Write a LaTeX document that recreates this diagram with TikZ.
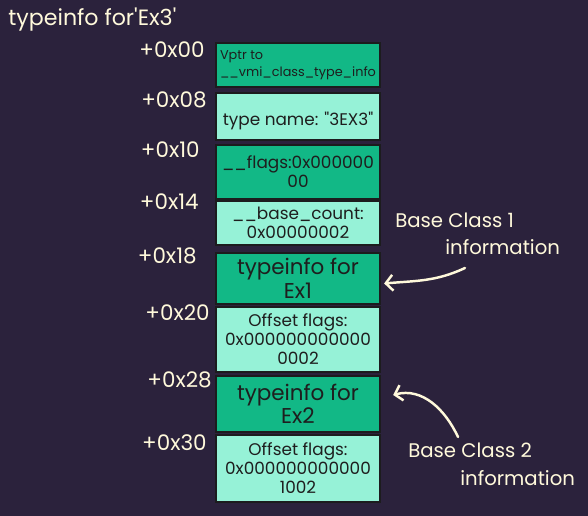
\documentclass[tikz,border=0pt]{standalone}
\usepackage{fontspec}
\setmainfont{Poppins}
\usetikzlibrary{calc,arrows.meta}
\definecolor{cBg}   {RGB}{43,34,60}
\definecolor{cDark} {RGB}{18,184,134}
\definecolor{cLight}{RGB}{150,242,215}
\definecolor{cEdge} {RGB}{28,28,30}
\definecolor{cInk}  {RGB}{30,30,30}
\definecolor{cCream}{RGB}{255,249,219}
\def\fsTitle{\fontsize{12.6}{15}\selectfont}
\def\fsOffs{\fontsize{12.2}{15}\selectfont}
\def\fsNote{\fontsize{11.2}{14}\selectfont}
\def\fsBig{\fontsize{12.2}{13.4}\selectfont}
\def\fsBox{\fontsize{9.6}{10.8}\selectfont}
\def\fsTiny{\fontsize{7.3}{9.6}\selectfont}
\def\Xmid{298}
\tikzset{
  slot/.style={draw=cEdge,line width=1.3pt,text=cInk,minimum width=3.28cm,
    inner sep=0pt,align=center},
  offs/.style={text=cCream,font=\fsOffs,anchor=east,inner sep=0pt},
  note/.style={text=cCream,font=\fsNote,anchor=west,inner sep=0pt},
  noteArrow/.style={draw=cCream,line width=1.4pt,line cap=round,
    -{Straight Barb[length=4pt,width=9pt,line width=1.4pt]}}
}
% name, y top, y bottom, fill, font, text
\newcommand{\slotBox}[6]{%
  \node[slot,fill=#4,font=#5,minimum height={(#3-#2)*0.02cm}]
    (#1) at (\Xmid,{(#2+#3)/2}) {#6};
}

\begin{document}
\begin{tikzpicture}[x=0.02cm,y=-0.02cm]

% fundo
\fill[cBg] (0,0) rectangle (588,516);
\useasboundingbox (0,0) rectangle (588,516);

% =================== TITLE ===================
\node[note,font=\fsTitle] (title) at (8,20)
  {typeinfo for\textquotesingle Ex3\textquotesingle};

% =================== SLOTS ===================
\slotBox{vptr}{43}{87}{cDark}{\fsTiny}{%
  \begin{tabular}{@{}l@{}}Vptr to\\\_\_vmi\_class\_type\_info\end{tabular}}
\slotBox{tname}{93}{140}{cLight}{\fsBox}%
  {\raisebox{-13pt}{type name: \textquotedbl 3EX3\textquotedbl}}
\slotBox{flags}{145}{199}{cDark}{\fsBox}{\_\_flags:0x000000\\00}
\slotBox{bcount}{201}{245}{cLight}{\fsBox}{\_\_base\_count:\\0x00000002}
\slotBox{ti1}{253}{304}{cDark}{\fsBig}{typeinfo for\\Ex1}
\slotBox{off1}{307}{372}{cLight}{\fsBox}{Offset flags:\\0x000000000000\\0002}
\slotBox{ti2}{376}{432}{cDark}{\fsBig}{typeinfo for\\Ex2}
\slotBox{off2}{435}{502}{cLight}{\fsBox}{Offset flags:\\0x000000000000\\1002}

% =================== OFFSETS ===================
\foreach \lbl/\xx/\yy [count=\i] in {+0x00/205/50,+0x08/207/100,+0x10/200/150,
    +0x14/199/202,+0x18/197/256,+0x20/210/313,+0x28/212/380,+0x30/207/443}
  \node[offs] (o\i) at (\xx,\yy) {\lbl};

% =================== NOTES ===================
\node[note] (bc1) at (395,220) {Base Class 1};
\node[note] (bc1b) at (445,247) {information};
\node[note] (bc2) at (408,450) {Base Class 2};
\node[note] (bc2b) at (460,478) {information};

\coordinate (bc1tail) at (465,268);
\coordinate (bc2tail) at (458,437);
\draw[noteArrow] (bc1tail) to[out=205,in=5] ($(ti1.east)+(3,5)$);
\draw[noteArrow] (bc2tail) to[out=115,in=15] ($(ti2.east)+(12,-9)$);

\end{tikzpicture}
\end{document}
